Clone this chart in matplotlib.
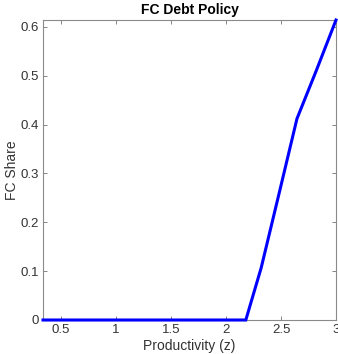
import matplotlib
matplotlib.use("Agg")
import matplotlib.pyplot as plt

z = [0.336, 0.5, 0.75, 1.0, 1.25, 1.5, 1.75, 2.0, 2.18, 2.32, 2.49, 2.645, 2.82, 3.0]
fc_share = [0, 0, 0, 0, 0, 0, 0, 0, 0, 0.107, 0.266, 0.412, 0.51, 0.614]
xticks = [0.5, 1, 1.5, 2, 2.5, 3]
xticklabels = ["0.5", "1", "1.5", "2", "2.5", "3"]
yticks = [0, 0.1, 0.2, 0.3, 0.4, 0.5, 0.6]
yticklabels = ["0", "0.1", "0.2", "0.3", "0.4", "0.5", "0.6"]

plt.rcParams['font.family'] = ['Liberation Sans', 'DejaVu Sans']
fig = plt.figure(figsize=(3.38, 3.54), dpi=100)
ax = fig.add_axes([43/338, 1 - 320/354, (336-43)/338, (320-20)/354])
ax.plot(z, fc_share, color='#0000ff', lw=2.2, solid_joinstyle='miter', clip_on=False, zorder=3)
ax.set_xlim(z[0], 3.0)
ax.set_ylim(0, 0.614)
ax.set_xticks(xticks)
ax.set_xticklabels(xticklabels)
ax.set_yticks(yticks)
ax.set_yticklabels(yticklabels)
for s in ax.spines.values():
    s.set_color('#8a8a8a')
    s.set_linewidth(0.8)
ax.tick_params(direction='in', top=True, right=True, length=3, width=0.6,
               color='#707070', labelsize=9.5, labelcolor='#333333', pad=3)
ax.set_title("FC Debt Policy", fontsize=10, fontweight='bold', pad=4)
ax.set_xlabel("Productivity (z)", fontsize=10, color='#333333', labelpad=2)
ax.set_ylabel("FC Share", fontsize=10, color='#333333', labelpad=1)
fig.savefig("out.png", dpi=100)
